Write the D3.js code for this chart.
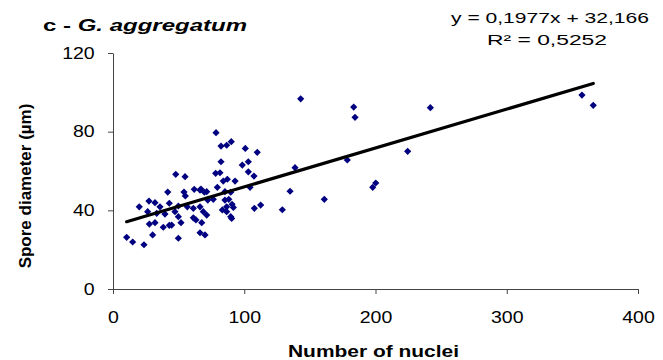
<!DOCTYPE html>
<html>
<head>
<meta charset="utf-8">
<script src="https://cdn.jsdelivr.net/npm/d3@7"></script>
<style>
  body { margin: 0; background: #fff; }
  text { font-family: "Liberation Sans", Arial, sans-serif; }
</style>
</head>
<body>
<div id="chart"></div>
<script>
// Number of nuclei (x) and spore diameter in µm (y)
const nuclei = [
    78.5, 82.3, 86.6, 90.1, 100.8, 109.9, 82.3, 98.5, 103.1, 78.2,
    81.5, 103.1, 107.4, 47.8, 54.9, 84.0, 87.1, 93.0, 41.7, 54.1,
    55.1, 61.9, 67.0, 69.6, 71.4, 79.5, 85.3, 89.7, 104.4, 20.0,
    27.4, 32.0, 35.8, 42.9, 49.8, 56.6, 61.2, 66.3, 72.2, 76.4,
    85.3, 88.2, 90.7, 86.6, 91.7, 83.3, 89.7, 107.7, 112.5, 26.4,
    33.3, 39.6, 47.2, 49.8, 61.2, 63.2, 68.8, 71.4, 51.8, 27.7,
    32.0, 38.3, 42.9, 44.7, 30.2, 49.8, 66.3, 70.1, 10.4, 15.0,
    23.6, 67.6, 86.6, 90.4, 66.3,
    143.0, 183.4, 184.4, 241.8, 357.3, 365.9, 224.5, 178.5, 138.7, 134.9,
    161.0, 197.9, 200.2, 129.0
];
const diameter = [
    79.5, 72.7, 73.1, 74.9, 71.5, 69.5, 64.7, 63.0, 64.7, 58.8,
    59.1, 59.6, 57.4, 58.3, 57.1, 54.9, 55.8, 54.9, 49.3, 49.3,
    47.3, 50.7, 50.8, 49.2, 49.5, 51.7, 49.5, 49.2, 51.7, 41.8,
    44.7, 43.9, 41.8, 43.6, 42.2, 41.8, 41.0, 41.8, 45.2, 45.6,
    45.2, 45.6, 43.1, 41.8, 41.5, 40.2, 36.8, 41.0, 42.7, 39.3,
    38.5, 38.1, 39.3, 36.8, 36.2, 35.1, 39.3, 37.6, 33.7, 33.0,
    33.7, 31.4, 32.4, 32.5, 27.5, 25.8, 28.6, 27.5, 26.3, 23.9,
    22.5, 33.7, 39.3, 35.9, 50.3,
    96.7, 92.5, 87.3, 92.2, 98.6, 93.4, 70.0, 65.6, 61.7, 49.7,
    45.6, 51.7, 53.9, 40.3
];
const xTicks = [0, 100, 200, 300, 400];
const yTicks = [0, 40, 80, 120];

// Trend line from the equation shown on the chart
const slope = 0.1977;
const intercept = 32.166;

const data = nuclei.map((n, i) => ({ n: n, d: diameter[i] }));

const width = 663;
const height = 360;
const margin = { top: 53, right: 25, bottom: 71, left: 113 };
const stretch = 1.22; // text in the original is widened horizontally

const svg = d3.select("#chart")
    .append("svg")
    .attr("width", width)
    .attr("height", height);

const x = d3.scaleLinear()
    .domain([0, 400])
    .range([margin.left, width - margin.right]);

const y = d3.scaleLinear()
    .domain([0, 120])
    .range([height - margin.bottom, margin.top]);

// X axis
const gx = svg.append("g")
    .attr("transform", `translate(0, ${height - margin.bottom})`)
    .call(d3.axisBottom(x)
        .tickValues(xTicks)
        .tickSize(5)
        .tickSizeOuter(0)
        .tickPadding(18));

// Y axis
const gy = svg.append("g")
    .attr("transform", `translate(${margin.left}, 0)`)
    .call(d3.axisLeft(y)
        .tickValues(yTicks)
        .tickSize(5)
        .tickSizeOuter(0)
        .tickPadding(10));

[gx, gy].forEach(g => {
    g.select(".domain").attr("stroke", "#444");
    g.selectAll(".tick line").attr("stroke", "#444");
    g.selectAll(".tick text")
        .attr("fill", "#000")
        .style("font-size", "16px")
        .style("font-family", "Liberation Sans, Arial, sans-serif")
        .attr("transform", `scale(${stretch},1)`);
});

// Points (diamonds)
const diamond = d3.symbol().type(d3.symbolSquare).size(26);
svg.append("g")
    .selectAll("path")
    .data(data)
    .join("path")
    .attr("d", diamond)
    .attr("transform", d => `translate(${x(d.n)},${y(d.d)}) rotate(45)`)
    .attr("fill", "#000080");

// Linear trend line over the data range
const [xMin, xMax] = d3.extent(nuclei);
svg.append("line")
    .attr("x1", x(xMin))
    .attr("y1", y(slope * xMin + intercept))
    .attr("x2", x(xMax))
    .attr("y2", y(slope * xMax + intercept))
    .attr("stroke", "#000")
    .attr("stroke-width", 3.2)
    .attr("stroke-linecap", "round");

// Title
const title = svg.append("text")
    .attr("x", 43)
    .attr("y", 31)
    .attr("textLength", 204)
    .attr("lengthAdjust", "spacingAndGlyphs")
    .style("font-size", "17px")
    .style("font-weight", "bold");
title.append("tspan").text("c - ");
title.append("tspan").style("font-style", "italic").text("G. aggregatum");

// Equation
svg.append("text")
    .attr("x", 451)
    .attr("y", 23)
    .attr("textLength", 198)
    .attr("lengthAdjust", "spacingAndGlyphs")
    .style("font-size", "15px")
    .text("y = 0,1977x + 32,166");

svg.append("text")
    .attr("x", 487)
    .attr("y", 45)
    .attr("textLength", 120)
    .attr("lengthAdjust", "spacingAndGlyphs")
    .style("font-size", "15px")
    .text("R² = 0,5252");

// Axis titles
svg.append("text")
    .attr("x", 288)
    .attr("y", 357)
    .attr("textLength", 171)
    .attr("lengthAdjust", "spacingAndGlyphs")
    .style("font-size", "17px")
    .style("font-weight", "bold")
    .text("Number of nuclei");

svg.append("text")
    .attr("transform", "translate(31, 186) rotate(-90)")
    .attr("text-anchor", "middle")
    .style("font-size", "17px")
    .style("font-weight", "bold")
    .text("Spore diameter (µm)");
</script>
</body>
</html>
